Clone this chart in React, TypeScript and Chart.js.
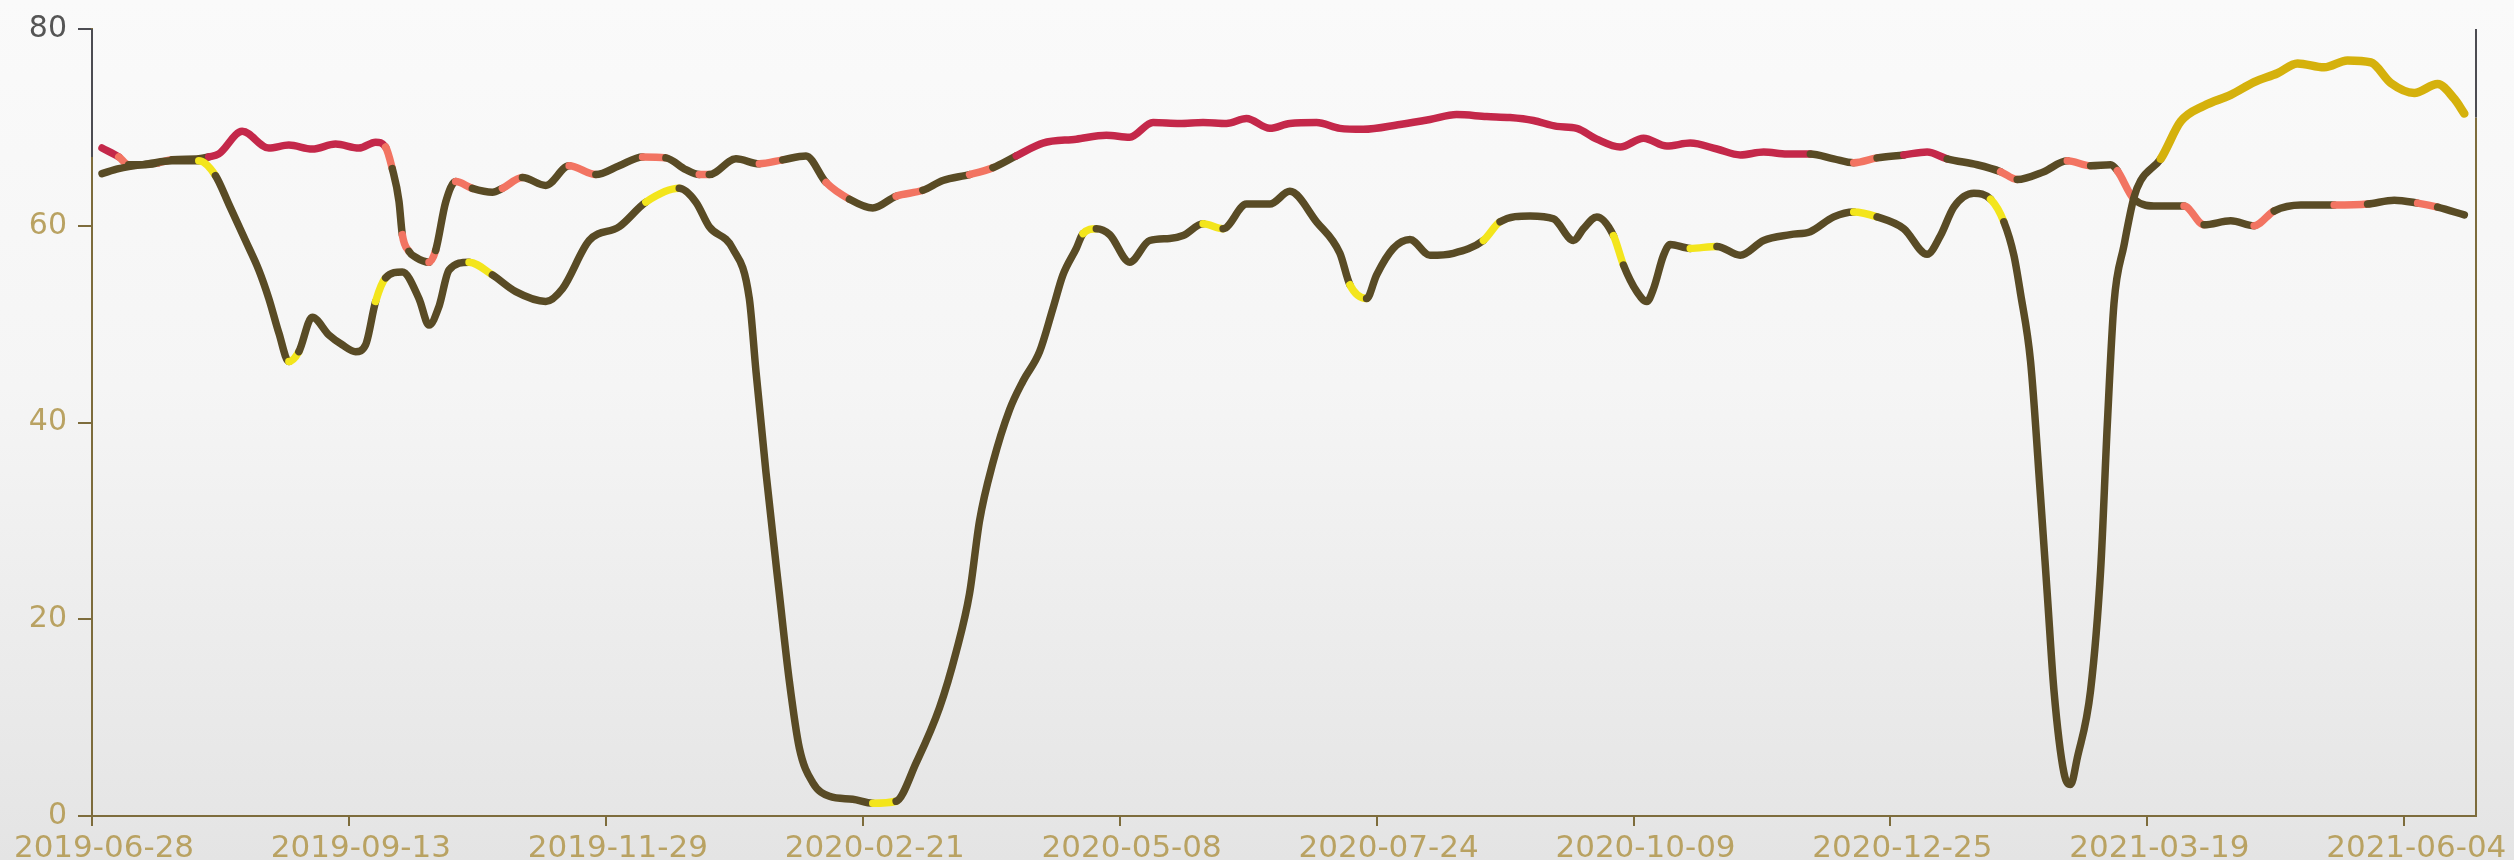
import React, { useEffect, useRef } from 'react';
import { Chart, registerables } from 'chart.js';

Chart.register(...registerables);

// ---- data ----
const tickLabels = [
  '2019-06-28', '2019-09-13', '2019-11-29', '2020-02-21', '2020-05-08',
  '2020-07-24', '2020-10-09', '2020-12-25', '2021-03-19', '2021-06-04',
];
const tickStepDays = 77;
const axisMaxDays = 714.5;
const yMin = 0;
const yMax = 80;
const yStep = 20;

// days since 2019-06-28
const upperDays = [
  3, 8, 11, 16, 20, 24, 32, 35, 38, 45, 53, 59, 66, 73, 80, 85, 88, 90, 92, 93,
  95, 97, 101, 103, 106, 109, 114, 120, 123, 129, 136, 143, 151, 158, 165, 172, 178, 182, 185, 193,
  200, 207, 214, 220, 227, 234, 241, 249, 255, 263, 270, 277, 285, 295, 304, 311, 318, 326, 333, 340,
  346, 353, 359, 367, 374, 381, 392, 401, 409, 418, 425, 432, 439, 445, 451, 458, 465, 472, 479, 487,
  494, 501, 508, 515, 522, 528, 535, 543, 550, 556, 565, 572, 577, 585, 592, 599, 605, 607, 612, 619,
  627, 633, 641, 648, 654, 662, 672, 682, 690, 697, 703, 711,
];
const upperValues = [
  67.9, 67.0, 66.2, 66.2, 66.4, 66.7, 66.8, 67.0, 67.3, 69.6, 67.9, 68.2, 67.8, 68.3, 67.9, 68.5, 68.0, 65.8, 62.5, 59.1,
  57.4, 56.8, 56.3, 57.5, 62.4, 64.5, 63.8, 63.4, 63.8, 64.9, 64.1, 66.1, 65.2, 66.1, 67.0, 66.9, 65.7, 65.2, 65.2, 66.8,
  66.3, 66.7, 67.1, 64.4, 62.7, 61.8, 63.0, 63.6, 64.6, 65.2, 65.9, 67.1, 68.4, 68.8, 69.2, 69.0, 70.5, 70.4, 70.5, 70.4,
  70.9, 69.9, 70.4, 70.5, 69.9, 69.8, 70.3, 70.8, 71.3, 71.1, 71.0, 70.7, 70.1, 69.9, 68.8, 68.0, 68.9, 68.1, 68.4, 67.8,
  67.2, 67.5, 67.3, 67.3, 66.8, 66.4, 66.9, 67.2, 67.5, 66.8, 66.2, 65.5, 64.7, 65.5, 66.6, 66.1, 66.2, 65.6, 62.7, 62.0,
  62.0, 60.1, 60.5, 60.0, 61.5, 62.1, 62.1, 62.2, 62.6, 62.3, 61.9, 61.1,
];

const lowerDays = [
  3, 8, 17, 24, 32, 37, 41, 46, 50, 53, 56, 59, 62, 66, 71, 75, 79, 82, 85, 88,
  93, 98, 101, 104, 107, 113, 120, 127, 136, 141, 149, 158, 166, 176, 181, 185, 192, 197, 199, 202,
  206, 209, 212, 216, 221, 228, 234, 241, 247, 254, 259, 263, 266, 270, 275, 279, 284, 288, 291, 295,
  297, 301, 305, 311, 317, 323, 327, 333, 339, 346, 353, 359, 367, 374, 377, 382, 385, 390, 395, 401,
  408, 417, 422, 431, 438, 444, 447, 451, 456, 459, 463, 466, 468, 471, 473, 479, 487, 494, 501, 509,
  515, 522, 528, 535, 543, 550, 554, 558, 564, 569, 573, 576, 578, 581, 584, 586, 588, 591, 593, 595,
  599, 602, 604, 606, 609, 612, 614, 620, 626, 633, 641, 648, 655, 661, 669, 676, 683, 689, 696, 703,
  708, 711,
];
const lowerValues = [
  65.3, 65.8, 66.3, 66.6, 66.6, 65.1, 62.2, 58.5, 55.5, 52.6, 49.1, 46.2, 47.2, 50.7, 48.9, 47.9, 47.2, 47.9, 52.3, 54.7,
  55.3, 52.6, 49.9, 51.8, 55.5, 56.3, 55.0, 53.3, 52.3, 53.6, 58.5, 59.9, 62.4, 63.8, 62.4, 59.9, 57.7, 52.6, 45.2, 34.9,
  22.6, 13.7, 6.9, 3.4, 2.0, 1.7, 1.3, 1.5, 5.4, 11.0, 16.7, 22.6, 30.0, 35.9, 41.3, 44.2, 47.2, 51.6, 55.0, 57.7,
  59.2, 59.7, 59.1, 56.3, 58.5, 58.7, 59.0, 60.2, 59.7, 62.2, 62.2, 63.5, 60.4, 57.2, 54.0, 52.6, 55.0, 57.7, 58.6, 57.0,
  57.2, 58.5, 60.4, 61.0, 60.7, 58.5, 59.7, 60.9, 59.0, 56.0, 53.3, 52.3, 53.6, 57.0, 58.1, 57.7, 57.9, 57.0, 58.5, 59.1,
  59.4, 60.9, 61.4, 60.9, 59.7, 57.1, 59.0, 61.9, 63.3, 62.7, 60.4, 57.0, 53.1, 46.2, 32.4, 22.6, 12.8, 4.4, 3.2, 5.9,
  12.8, 25.0, 39.8, 52.1, 58.0, 62.9, 64.6, 66.8, 70.6, 72.2, 73.3, 74.6, 75.5, 76.5, 76.1, 76.8, 76.6, 74.5, 73.5, 74.4,
  72.9, 71.4,
];

// ---- styles ----
const OLIVE = '#594b25';
const CRIMSON = '#c4284a';
const SALMON = '#f27462';
const YELLOW = '#f3e51c';
const GOLD = '#d5b10c';
const AXIS = '#7d6c3c';
const AXIS_DARK = '#4c4c52';
const LABEL = '#b9a262';
const FONT = '"DejaVu Sans", Verdana, sans-serif';
const LINE_W = 7.5;

const toPoints = (xs: number[], ys: number[]) => xs.map((x, i) => ({ x, y: ys[i] }));

const axisDecor = {
  id: 'axisDecor',
  afterDraw(chart: any) {
    const { ctx, chartArea, scales } = chart;
    const { left, right, top, bottom } = chartArea;
    const y = scales.y;
    ctx.save();
    ctx.lineWidth = 2;
    ctx.strokeStyle = AXIS_DARK;
    ctx.beginPath();
    ctx.moveTo(left, top);
    ctx.lineTo(left, y.getPixelForValue(67));
    ctx.stroke();
    ctx.strokeStyle = AXIS;
    ctx.beginPath();
    ctx.moveTo(right, y.getPixelForValue(71));
    ctx.lineTo(right, bottom + 1);
    ctx.stroke();
    ctx.strokeStyle = AXIS_DARK;
    ctx.beginPath();
    ctx.moveTo(right, top);
    ctx.lineTo(right, y.getPixelForValue(71));
    ctx.stroke();
    ctx.restore();
  },
};

export default function App() {
  const ref = useRef<HTMLCanvasElement | null>(null);

  useEffect(() => {
    if (!ref.current) return;
    const chart = new Chart(ref.current, {
      type: 'line',
      data: {
        datasets: [
          {
            label: 'lower',
            data: toPoints(lowerDays, lowerValues),
            borderColor: OLIVE,
            borderWidth: LINE_W,
            pointRadius: 0,
            cubicInterpolationMode: 'monotone',
            borderCapStyle: 'round',
            borderJoinStyle: 'round',
            segment: {
              borderColor: (c: any) => {
                const a = c.p0.parsed.y;
                const b = c.p1.parsed.y;
                if ((a + b) / 2 >= 66.7) return GOLD;
                if (c.p0DataIndex % 7 === 4 && Math.abs(a - b) < 4) return YELLOW;
                return OLIVE;
              },
              borderWidth: (c: any) => ((c.p0.parsed.y + c.p1.parsed.y) / 2 >= 66.7 ? LINE_W + 1 : LINE_W),
            },
          } as any,
          {
            label: 'upper',
            data: toPoints(upperDays, upperValues),
            borderColor: OLIVE,
            borderWidth: LINE_W,
            pointRadius: 0,
            cubicInterpolationMode: 'monotone',
            borderCapStyle: 'round',
            borderJoinStyle: 'round',
            segment: {
              borderColor: (c: any) => {
                const m = (c.p0.parsed.y + c.p1.parsed.y) / 2;
                if (m >= 67.1) return CRIMSON;
                if (c.p0DataIndex % 3 === 1) return SALMON;
                return OLIVE;
              },
            },
          } as any,
        ],
      },
      options: {
        animation: false,
        responsive: false,
        layout: { padding: { top: 27, right: 38, left: 0, bottom: 0 } },
        plugins: {
          legend: { display: false },
          tooltip: { enabled: false },
        },
        scales: {
          x: {
            type: 'linear',
            min: 0,
            max: axisMaxDays,
            border: { display: true, color: AXIS, width: 2 },
            grid: {
              display: true,
              drawOnChartArea: false,
              drawTicks: true,
              tickLength: 10,
              color: AXIS,
              lineWidth: 2,
            },
            ticks: {
              stepSize: tickStepDays,
              includeBounds: false,
              autoSkip: false,
              maxRotation: 0,
              minRotation: 0,
              padding: 4,
              labelOffset: 12,
              color: LABEL,
              font: { family: FONT, size: 31 },
              callback: (v: any) => {
                const i = Math.round(Number(v) / tickStepDays);
                return Math.abs(Number(v) - i * tickStepDays) < 0.01 ? tickLabels[i] ?? '' : '';
              },
            },
            afterFit: (s: any) => {
              s.height = 44;
              s.paddingLeft = 0;
              s.paddingRight = 0;
            },
          } as any,
          y: {
            type: 'linear',
            min: yMin,
            max: yMax,
            border: { display: true, color: AXIS, width: 2 },
            grid: {
              display: true,
              drawOnChartArea: false,
              drawTicks: true,
              tickLength: 14,
              lineWidth: 2,
              color: (c: any) => (c.tick && c.tick.value === yMax ? AXIS_DARK : AXIS),
            },
            ticks: {
              stepSize: yStep,
              padding: 11,
              color: (c: any) => (c.tick && c.tick.value === yMax ? '#555555' : LABEL),
              font: { family: FONT, size: 30 },
            },
            afterFit: (s: any) => {
              s.width = 92;
            },
          } as any,
        },
      },
      plugins: [axisDecor],
    });
    return () => chart.destroy();
  }, []);

  return (
    <div
      style={{
        position: 'fixed',
        left: 0,
        top: 0,
        width: 2514,
        height: 860,
        background: 'linear-gradient(to bottom, #fafafa 0%, #f5f5f5 45%, #e4e4e4 100%)',
      }}
    >
      <canvas ref={ref} width={2514} height={860} style={{ display: 'block' }} />
    </div>
  );
}
